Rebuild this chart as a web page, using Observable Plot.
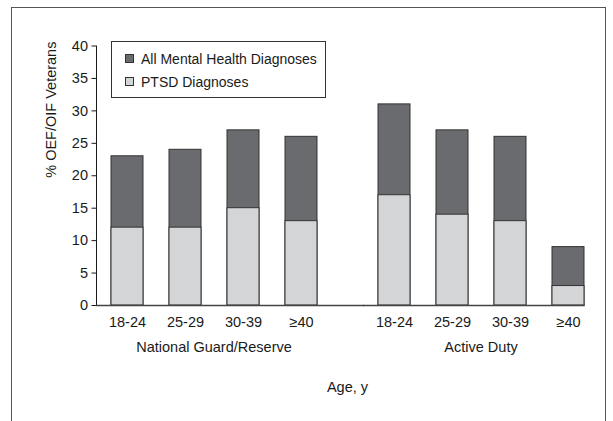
<!DOCTYPE html>
<html>
<head>
<meta charset="utf-8">
<script src="https://cdn.jsdelivr.net/npm/d3@7"></script>
<script src="https://cdn.jsdelivr.net/npm/@observablehq/plot@0.6"></script>
<style>
  body { margin: 0; background: #fff; }
  #wrap { position: relative; width: 613px; height: 421px; overflow: hidden; font-family: "Liberation Sans", Arial, sans-serif; }
  #frame { position: absolute; left: 11px; top: 7px; width: 593px; height: 480px; border: 1.6px solid #555; }
  #chart { position: absolute; left: 0; top: 0; }
  #legend { position: absolute; left: 111px; top: 40.5px; width: 213px; height: 55px; border: 1px solid #333; background: #fff; font-size: 14px; color: #1a1a1a; }
  #legend .item { position: absolute; left: 13px; display: flex; align-items: center; white-space: nowrap; line-height: 16px; }
  #legend .sw { width: 7px; height: 7px; border: 1px solid #333; margin-right: 7px; }
</style>
</head>
<body>
<div id="wrap">
  <div id="frame"></div>
  <div id="chart"></div>
  <div id="legend"></div>
</div>
<script>
const groups = ["National Guard/Reserve", "Active Duty"];
const ages = ["18-24", "25-29", "30-39", "≥40"];
const allMentalHealthNG = [23, 24, 27, 26];
const allMentalHealthAD = [31, 27, 26, 9];
const ptsdNG = [12, 12, 15, 13];
const ptsdAD = [17, 14, 13, 3];
const seriesNames = ["All Mental Health Diagnoses", "PTSD Diagnoses"];
const yTicks = [0, 5, 10, 15, 20, 25, 30, 35, 40];

const colors = ["#6a6b6f", "#d4d5d7"];
const FONT = '"Liberation Sans", Arial, sans-serif';

const rows = [];
groups.forEach((g, gi) => {
  const all = gi === 0 ? allMentalHealthNG : allMentalHealthAD;
  const pt = gi === 0 ? ptsdNG : ptsdAD;
  ages.forEach((a, i) => rows.push({group: g, age: a, all: all[i], ptsd: pt[i]}));
});

const chart = Plot.plot({
  width: 613,
  height: 421,
  marginTop: 45.5,
  marginBottom: 116,
  marginLeft: 95,
  marginRight: 14.5,
  style: {fontFamily: FONT, fontSize: "14.5px", color: "#1a1a1a", background: "transparent"},
  fx: {domain: groups, paddingInner: 0.1206, paddingOuter: 0, axis: "bottom", tickSize: 0, tickPadding: 36, label: "Age, y", labelAnchor: "center", labelOffset: 86},
  x: {domain: ages, paddingInner: 0.4507, paddingOuter: 0.2262, axis: "bottom", tickSize: 0, tickPadding: 11, label: null},
  y: {domain: [0, 40], ticks: yTicks, tickSize: 4.5, tickPadding: 4, label: null, line: true},
  marks: [
    Plot.barY(rows, {fx: "group", x: "age", y: "all", fill: colors[0], stroke: "#333", strokeWidth: 1}),
    Plot.barY(rows, {fx: "group", x: "age", y: "ptsd", fill: colors[1], stroke: "#333", strokeWidth: 1}),
    Plot.ruleY([{fx: groups[0], y: 0}], {fx: "fx", y: "y", stroke: "#444", strokeWidth: 1.5, insetRight: -33}),
    Plot.ruleY([{fx: groups[1], y: 0}], {fx: "fx", y: "y", stroke: "#444", strokeWidth: 1.5, insetRight: 13.3}),
    Plot.text([{fx: groups[0], t: "% OEF/OIF Veterans"}], {fx: "fx", text: "t", frameAnchor: "left", rotate: -90, dx: -45, dy: 2, fontSize: 14.5, fill: "#1a1a1a"})
  ]
});
document.getElementById("chart").appendChild(chart);

const legend = document.getElementById("legend");
seriesNames.forEach((n, i) => {
  const it = document.createElement("div");
  it.className = "item";
  it.style.top = (i === 0 ? 9 : 32) + "px";
  const sw = document.createElement("div");
  sw.className = "sw";
  sw.style.background = colors[i];
  const tx = document.createElement("span");
  tx.textContent = n;
  it.appendChild(sw); it.appendChild(tx);
  legend.appendChild(it);
});
</script>
</body>
</html>
